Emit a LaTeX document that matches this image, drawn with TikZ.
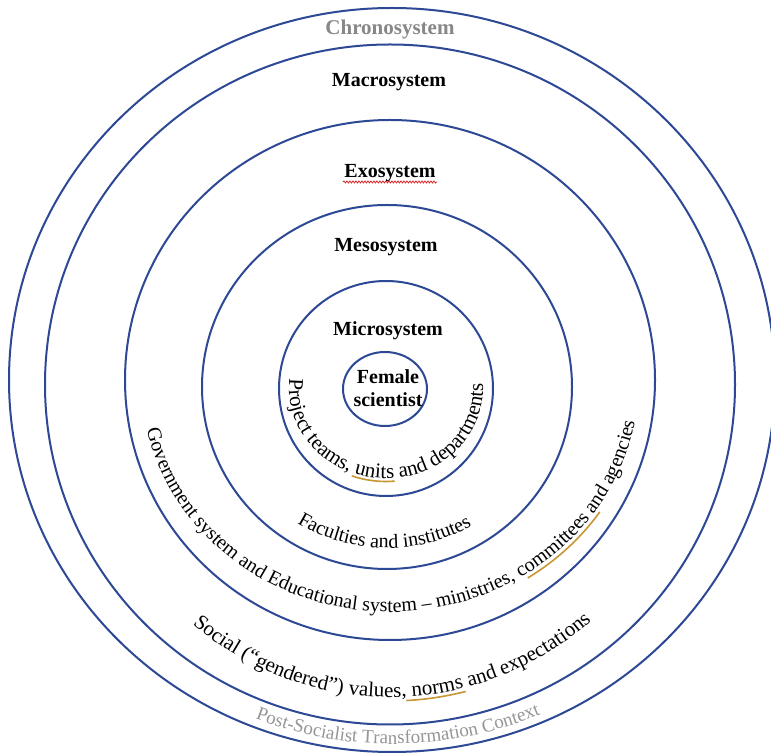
\documentclass[tikz,border=0pt]{standalone}
\usepackage{fontspec}
\setmainfont{Liberation Serif}
\usetikzlibrary{decorations.text,decorations.pathmorphing}
\definecolor{ringblue}{RGB}{45,72,148}
\definecolor{chrono}{RGB}{135,135,135}
\definecolor{ctxgray}{RGB}{150,150,150}
\definecolor{grammar}{RGB}{200,150,50}
\definecolor{spell}{RGB}{220,40,40}
\tikzset{
  ring/.style={draw=ringblue, line width=2pt},
  syslabel/.style={font=\fontsize{20}{24}\selectfont\bfseries, anchor=base, inner sep=0pt},
  arctext/.style={decorate, decoration={text along path, text align=center, #1}},
  gline/.style={draw=grammar, line width=1.6pt},
}
\begin{document}
\begin{tikzpicture}[x=1pt,y=1pt]
\clip (0,0) rectangle (771,755);
\fill[white] (0,0) rectangle (771,755);
% rings
\draw[ring] (392,375) ellipse [x radius=383, y radius=372];
\draw[ring] (390,370.5) ellipse [x radius=345, y radius=340];
\draw[ring] (390,375) ellipse [x radius=265, y radius=260];
\draw[ring] (387,368) ellipse [x radius=185, y radius=182];
\draw[ring] (386,366.5) ellipse [x radius=107, y radius=107.5];
\draw[ring] (385,366) ellipse [x radius=42, y radius=37];
% labels
\node[syslabel, text=chrono, font=\fontsize{21}{25}\selectfont\bfseries] (chrono) at (390,720.5) {Chronosystem};
\node[syslabel] (macro) at (389,668) {Macrosystem};
\node[syslabel] (exo) at (390,577) {Exosystem};
\node[syslabel] (meso) at (386,503) {Mesosystem};
\node[syslabel] (micro) at (388,419) {Microsystem};
\node[syslabel] (female) at (388,371) {Female};
\node[syslabel] (scientist) at (388,348) {scientist};
% spelling mark under Exosystem
\draw[spell, line width=0.8pt, decorate, decoration={snake, amplitude=1pt, segment length=3pt}] (343,573) -- (437,573);
% curved texts
\path[arctext={text={|\fontsize{21}{25}\selectfont|Project teams, units and departments}}]
  (386,366.5) ++(160:97 and 90) arc[start angle=160, end angle=377, x radius=97, y radius=90];
\path[arctext={text={|\fontsize{20}{24}\selectfont|Faculties and institutes}}]
  (387,368) ++(209:168 and 161) arc[start angle=209, end angle=329, x radius=168, y radius=161];
\path[arctext={text={|\fontsize{20}{24}\selectfont|Government system and Educational system – ministries, committees and agencies}}]
  (390,375) ++(170:249 and 232) arc[start angle=170, end angle=372, x radius=249, y radius=232];
\path[arctext={text={|\fontsize{21}{25}\selectfont|Social (“gendered”) values, norms and expectations}}]
  (390,375) ++(200:310 and 317) arc[start angle=200, end angle=341, x radius=310, y radius=317];
\path[arctext={text={|\fontsize{19}{23}\selectfont\color{ctxgray}|Post-Socialist Transformation Context}}]
  (392,375) ++(221:375 and 364) arc[start angle=221, end angle=321, x radius=375, y radius=364];
% grammar marks
\draw[gline] (386,366.5) ++(250:100 and 93) arc[start angle=250, end angle=275, x radius=100, y radius=93];
\draw[gline] (390,375) ++(303:253 and 236) arc[start angle=303, end angle=326, x radius=253, y radius=236];
\draw[gline] (390,375) ++(273:313 and 321) arc[start angle=273, end angle=284, x radius=313, y radius=321];
\end{tikzpicture}
\end{document}
